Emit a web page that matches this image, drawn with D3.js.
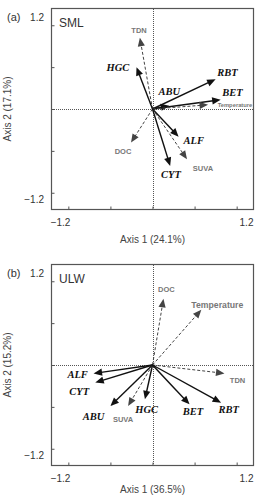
<!DOCTYPE html>
<html>
<head>
<meta charset="utf-8">
<script src="https://cdn.jsdelivr.net/npm/d3@7"></script>
<style>
  body { margin: 0; background: #fff; }
</style>
</head>
<body>
<div id="chart"></div>
<script>
// panel (a) SML
var smlNames  = ["TDN","HGC","RBT","BET","ABU","Temperature","DOC","ALF","SUVA","CYT"];
var smlType   = ["env","sp","sp","sp","sp","env","env","sp","env","sp"];
var smlX      = [-0.15,-0.19,0.75,0.81,0.20,0.66,-0.255,0.31,0.41,0.21];
var smlY      = [0.85,0.50,0.355,0.11,0.04,0.05,-0.40,-0.33,-0.60,-0.68];
var smlLabX   = [-0.16,-0.41,0.89,0.95,0.20,0.98,-0.35,0.49,0.60,0.22];
var smlLabY   = [0.94,0.50,0.44,0.20,0.21,0.05,-0.51,-0.38,-0.71,-0.78];

// panel (b) ULW
var ulwNames  = ["DOC","Temperature","TDN","ALF","CYT","ABU","SUVA","HGC","BET","RBT"];
var ulwType   = ["env","env","env","sp","sp","sp","env","sp","sp","sp"];
var ulwX      = [0.13,0.58,0.855,-0.70,-0.68,-0.50,-0.29,-0.09,0.44,0.815];
var ulwY      = [0.79,0.66,-0.10,-0.10,-0.21,-0.49,-0.49,-0.41,-0.47,-0.45];
var ulwLabX   = [0.165,0.77,1.01,-0.89,-0.87,-0.70,-0.35,-0.07,0.48,0.905];
var ulwLabY   = [0.90,0.715,-0.19,-0.11,-0.32,-0.62,-0.65,-0.53,-0.55,-0.53];

var tickVals = [-1, -0.5, 0, 0.5, 1];

var sans = "'Liberation Sans', Arial, sans-serif";
var serif = "'Liberation Serif', 'Times New Roman', serif";

var width = 256, height = 496;
var svg = d3.select("#chart").append("svg")
  .attr("width", width)
  .attr("height", height)
  .style("font-family", sans);

function drawPanel(cfg) {
  var g = svg.append("g").attr("transform", "translate(0," + cfg.top + ")");
  var x = d3.scaleLinear().domain([-1.2, 1.2]).range([51.5, 253.5]);
  var y = d3.scaleLinear().domain([-1.2, 1.2]).range([209.5, 8.5]);

  // ticks (inward, no labels)
  g.append("g")
    .attr("transform", "translate(0," + y(-1.2) + ")")
    .call(d3.axisBottom(x).tickValues(tickVals).tickSize(-3).tickFormat(""))
    .call(a => a.select(".domain").remove())
    .selectAll("line").attr("stroke", "#555");
  g.append("g")
    .attr("transform", "translate(" + x(-1.2) + ",0)")
    .call(d3.axisLeft(y).tickValues(tickVals).tickSize(-3).tickFormat(""))
    .call(a => a.select(".domain").remove())
    .selectAll("line").attr("stroke", "#555");

  // centre lines
  g.append("line").attr("x1", Math.round(x(0)) + 0.5).attr("x2", Math.round(x(0)) + 0.5)
    .attr("y1", y(1.2)).attr("y2", y(-1.2))
    .attr("stroke", "#555").attr("stroke-width", 1).attr("stroke-dasharray", "1,1")
    .attr("shape-rendering", "crispEdges");
  g.append("line").attr("x1", x(-1.2)).attr("x2", x(1.2))
    .attr("y1", Math.round(y(0)) + 0.5).attr("y2", Math.round(y(0)) + 0.5)
    .attr("stroke", "#555").attr("stroke-width", 1).attr("stroke-dasharray", "1,1")
    .attr("shape-rendering", "crispEdges");

  // box
  g.append("rect")
    .attr("x", x(-1.2)).attr("y", y(1.2))
    .attr("width", x(1.2) - x(-1.2)).attr("height", y(-1.2) - y(1.2))
    .attr("fill", "none").attr("stroke", "#555").attr("stroke-width", 1.2);

  // end labels
  g.append("text").attr("x", x(-1.2) + 9).attr("y", y(-1.2) + 16)
    .attr("text-anchor", "middle").attr("font-size", 10).attr("fill", "#333").text("\u22121.2");
  g.append("text").attr("x", x(1.2) - 7).attr("y", y(-1.2) + 16)
    .attr("text-anchor", "middle").attr("font-size", 10).attr("fill", "#333").text("1.2");
  g.append("text").attr("x", 44).attr("y", y(-1.2) - 7)
    .attr("text-anchor", "end").attr("font-size", 10).attr("fill", "#333").text("\u22121.2");
  g.append("text").attr("x", 44).attr("y", y(1.2) + 12)
    .attr("text-anchor", "end").attr("font-size", 10).attr("fill", "#333").text("1.2");
  g.append("text").attr("x", 7).attr("y", y(1.2) + 12)
    .attr("font-size", 11).attr("fill", "#333").text(cfg.tag);
  g.append("text").attr("x", 59).attr("y", y(1.2) + 18)
    .attr("font-size", 12).attr("fill", "#333").text(cfg.site);

  // axis titles
  g.append("text").attr("x", x(0)).attr("y", y(-1.2) + cfg.titleGap)
    .attr("text-anchor", "middle").attr("font-size", 10).attr("fill", "#444").text(cfg.xTitle);
  g.append("text")
    .attr("transform", "translate(11," + y(0) + ") rotate(-90)")
    .attr("text-anchor", "middle").attr("font-size", 10).attr("fill", "#444").text(cfg.yTitle);

  // arrows
  var rows = cfg.names.map((n, i) => ({
    name: n, type: cfg.type[i], x: cfg.xs[i], y: cfg.ys[i], lx: cfg.lx[i], ly: cfg.ly[i]
  }));
  var x0 = x(0), y0 = y(0);
  rows.forEach(d => {
    var tx = x(d.x), ty = y(d.y);
    var dx = tx - x0, dy = ty - y0, len = Math.sqrt(dx * dx + dy * dy);
    var ux = dx / len, uy = dy / len;
    var hl = 8.5, hw = 3.6;
    var bx = tx - ux * hl, by = ty - uy * hl;
    var isSp = d.type === "sp";
    var col = isSp ? "#111" : "#444";
    g.append("line")
      .attr("x1", x0).attr("y1", y0).attr("x2", bx + ux).attr("y2", by + uy)
      .attr("stroke", col)
      .attr("stroke-width", isSp ? 1.4 : 1)
      .attr("stroke-dasharray", isSp ? null : "3,2");
    g.append("polygon")
      .attr("points", [[tx, ty], [bx - uy * hw, by + ux * hw], [bx + uy * hw, by - ux * hw]].join(" "))
      .attr("fill", col);
    var lab = g.append("text")
      .attr("x", x(d.lx)).attr("y", y(d.ly))
      .attr("text-anchor", "middle")
      .attr("dominant-baseline", "central")
      .text(d.name);
    if (isSp) {
      lab.style("font-family", serif)
        .attr("font-style", "italic").attr("font-weight", "bold")
        .attr("font-size", 10.5).attr("fill", "#111");
    } else {
      lab.attr("font-weight", "bold").attr("fill", "#777")
        .attr("font-size", d.name === "Temperature" ? cfg.tempSize : 7.5);
    }
  });
}

drawPanel({top: 0, tag: "(a)", site: "SML", xTitle: "Axis 1 (24.1%)", yTitle: "Axis 2 (17.1%)", titleGap: 33,
  names: smlNames, type: smlType, xs: smlX, ys: smlY, lx: smlLabX, ly: smlLabY, tempSize: 5.8});
drawPanel({top: 256, tag: "(b)", site: "ULW", xTitle: "Axis 1 (36.5%)", yTitle: "Axis 2 (15.2%)", titleGap: 27.5,
  names: ulwNames, type: ulwType, xs: ulwX, ys: ulwY, lx: ulwLabX, ly: ulwLabY, tempSize: 8.7});
</script>
</body>
</html>
